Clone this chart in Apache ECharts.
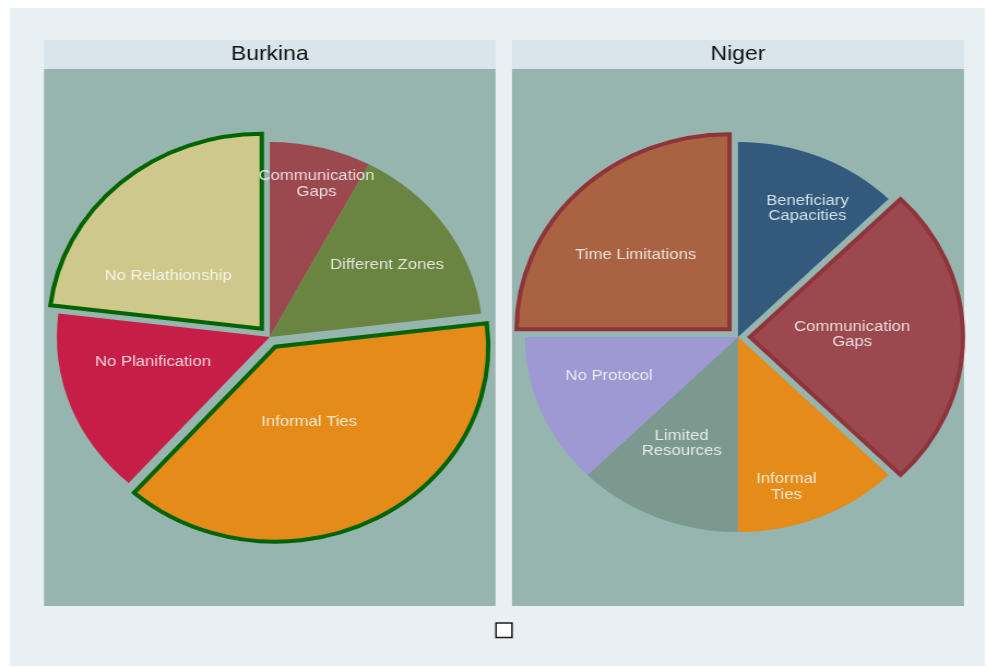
<!DOCTYPE html>
<html>
<head>
<meta charset="utf-8">
<script src="https://cdn.jsdelivr.net/npm/echarts@6/dist/echarts.min.js"></script>
<style>
  html, body { margin: 0; padding: 0; background: #ffffff; overflow: hidden; }
  /* the graph is drawn on a narrower canvas and widened, so pies come out as ellipses */
  #chart { width: 903px; height: 667px; transform: scaleX(1.0919); transform-origin: 0 0; }
</style>
</head>
<body>
<div id="chart"></div>
<script>
// Number of mentions of each obstacle, one pie per country
const burkinaCategories = ['Communication\nGaps', 'Different Zones', 'Informal Ties', 'No Planification', 'No Relathionship'];
const burkinaValues = [1, 2, 5, 2, 3];
const burkinaExploded = [false, false, true, false, true];

const nigerCategories = ['Beneficiary\nCapacities', 'Communication\nGaps', 'Informal\nTies', 'Limited\nResources', 'No Protocol', 'Time Limitations'];
const nigerValues = [1, 2, 1, 1, 1, 2];
const nigerExploded = [false, true, false, false, false, true];

const panelTitles = ['Burkina', 'Niger'];

// ---- styling ----
const W = 903, H = 667;
const STRETCH = 986 / W;
const ux = px => px / STRETCH;   // page pixels -> drawing units

const burkinaColors = ['#9b494f', '#6a8442', '#e58b19', '#c71e48', '#cfc88b'];
const burkinaEdge = '#006400';
const nigerColors = ['#315a7d', '#9b494f', '#e58b19', '#7c998f', '#9e98d3', '#aa6342'];
const nigerEdge = '#8f343b';

// label placement: [fraction of radius, angular shift in degrees from slice middle]
const burkinaLabelPlace = [[0.815, -1.8], [0.663, -0.8], [0.416, -5.3], [0.563, -7.8], [0.517, 16.8]];
const nigerLabelPlace = [[0.736, -3.8], [0.48, 1.6], [0.80, -6], [0.606, -3.4], [0.637, -4.4], [0.582, 4.2]];

const R = 195;
const OFFSET = 11;
const panels = [
  { x: ux(44), w: ux(451.5) },
  { x: ux(512), w: ux(452) }
];
const headerTop = 40, headerBottom = 69, plotBottom = 606;
const centers = panels.map(p => [p.x + p.w / 2, 337]);
const FONT = '"Liberation Sans", Arial, sans-serif';

function buildData(cats, vals, colors, exploded, edge) {
  return cats.map((name, i) => {
    const style = exploded[i]
      ? { color: colors[i], borderColor: edge, borderWidth: 4, borderJoin: 'miter' }
      : { color: colors[i], borderWidth: 0 };
    return {
      name: name,
      value: vals[i],
      selected: exploded[i],
      itemStyle: style,
      select: { itemStyle: style },
      emphasis: { itemStyle: style }
    };
  });
}

// Where a slice's name is written: derived from the slice's share of the pie
function labelSpot(vals, exploded, place, center, i) {
  const total = vals.reduce((a, b) => a + b, 0);
  let acc = 0;
  for (let j = 0; j < i; j++) acc += vals[j];
  const start = 90 - acc / total * 360;
  const end = start - vals[i] / total * 360;
  const mid = (start + end) / 2;
  const rm = mid * Math.PI / 180;
  const cx = center[0] + (exploded[i] ? OFFSET * Math.cos(rm) : 0);
  const cy = center[1] - (exploded[i] ? OFFSET * Math.sin(rm) : 0);
  const a = (mid + place[i][1]) * Math.PI / 180;
  return [cx + place[i][0] * R * Math.cos(a), cy - place[i][0] * R * Math.sin(a)];
}

function pieSeries(name, cats, vals, colors, exploded, edge, center) {
  return {
    type: 'pie',
    name: name,
    center: center,
    radius: [0, R],
    startAngle: 90,
    clockwise: true,
    selectedMode: 'multiple',
    selectedOffset: OFFSET,
    avoidLabelOverlap: false,
    animation: false,
    silent: true,
    z: 2,
    label: { show: false },
    labelLine: { show: false },
    data: buildData(cats, vals, colors, exploded, edge)
  };
}

function labelSeries(name, cats, vals, exploded, place, center) {
  return {
    type: 'scatter',
    name: name + ' labels',
    xAxisIndex: 0,
    yAxisIndex: 0,
    symbolSize: 0,
    silent: true,
    z: 5,
    label: {
      show: true,
      position: 'inside',
      align: 'center',
      verticalAlign: 'middle',
      color: '#ffffff',
      fontFamily: FONT,
      fontSize: 15.3,
      lineHeight: 15.5,
      formatter: p => p.data[2]
    },
    data: cats.map((c, i) => labelSpot(vals, exploded, place, center, i).concat([c]))
  };
}

const graphics = [
  { type: 'rect', shape: { x: ux(10), y: 8, width: ux(975), height: 658 }, style: { fill: '#e8f0f3' }, silent: true, z: -10 }
];
panels.forEach(p => {
  graphics.push({ type: 'rect', shape: { x: p.x, y: headerTop, width: p.w, height: headerBottom - headerTop }, style: { fill: '#d9e5eb' }, silent: true, z: -9 });
  graphics.push({ type: 'rect', shape: { x: p.x, y: headerBottom, width: p.w, height: plotBottom - headerBottom }, style: { fill: '#96b5af' }, silent: true, z: -9 });
});
// empty legend key below the panels
graphics.push({ type: 'rect', shape: { x: ux(496), y: 623, width: ux(16), height: 14.5 }, style: { fill: '#ffffff', stroke: '#1a1a1a', lineWidth: 1.5 }, silent: true, z: -8 });

const chart = echarts.init(document.getElementById('chart'), null, { renderer: 'canvas' });
chart.setOption({
  backgroundColor: '#ffffff',
  animation: false,
  title: panelTitles.map((t, i) => ({
    text: t,
    left: centers[i][0],
    top: (headerTop + headerBottom) / 2,
    textAlign: 'center',
    textVerticalAlign: 'middle',
    padding: 0,
    textStyle: { color: '#111111', fontFamily: FONT, fontSize: 21, fontWeight: 'normal' }
  })),
  // a page-sized frame, used only to place the slice names
  grid: { left: 0, right: 0, top: 0, bottom: 0, show: false },
  xAxis: { type: 'value', min: 0, max: W, show: false },
  yAxis: { type: 'value', min: 0, max: H, inverse: true, show: false },
  graphic: graphics,
  series: [
    pieSeries('Burkina', burkinaCategories, burkinaValues, burkinaColors, burkinaExploded, burkinaEdge, centers[0]),
    pieSeries('Niger', nigerCategories, nigerValues, nigerColors, nigerExploded, nigerEdge, centers[1]),
    labelSeries('Burkina', burkinaCategories, burkinaValues, burkinaExploded, burkinaLabelPlace, centers[0]),
    labelSeries('Niger', nigerCategories, nigerValues, nigerExploded, nigerLabelPlace, centers[1])
  ]
});
</script>
</body>
</html>
